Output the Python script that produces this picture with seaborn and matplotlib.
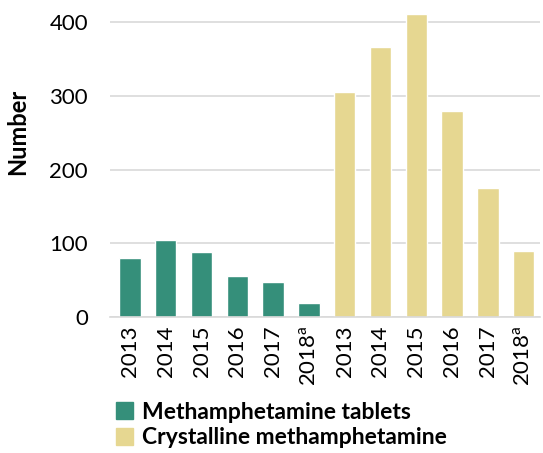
import seaborn as sns
import matplotlib.pyplot as plt
import pandas as pd

# values
years = ['2013', '2014', '2015', '2016', '2017', '2018$^{\\mathrm{a}}$']
tablets = [80, 104, 88, 56, 47, 19]
crystalline = [305, 366, 411, 279, 175, 90]
series = ['Methamphetamine tablets', 'Crystalline methamphetamine']
colors = ['#358F7A', '#E6D791']

df = pd.DataFrame({
    'slot': [f't{i}' for i in range(6)] + [f'c{i}' for i in range(6)],
    'value': tablets + crystalline,
    'kind': [series[0]] * 6 + [series[1]] * 6,
})

sns.set_theme(style='white')
plt.rcParams['font.family'] = ['Lato', 'DejaVu Sans']
plt.rcParams['mathtext.fontset'] = 'custom'
plt.rcParams['mathtext.rm'] = 'Lato'
plt.rcParams['text.color'] = 'black'
plt.rcParams['xtick.color'] = 'black'
plt.rcParams['ytick.color'] = 'black'
plt.rcParams['axes.labelcolor'] = 'black'

fig = plt.figure(figsize=(5.43, 4.53), dpi=100)
ax = fig.add_axes([0.203, 0.30, 0.791, 0.70])

sns.barplot(data=df, x='slot', y='value', hue='kind', palette=colors,
            dodge=False, width=0.6, ax=ax, legend=False, saturation=1)

ax.set_ylim(0, 430)
ax.set_yticks([0, 100, 200, 300, 400])
ax.yaxis.grid(True, color='#d9d9d9', linewidth=1.2)
ax.set_axisbelow(True)
for s in ['top', 'right', 'left']:
    ax.spines[s].set_visible(False)
ax.spines['bottom'].set_color('#d9d9d9')
ax.spines['bottom'].set_linewidth(1.2)

ax.set_xticks(range(12))
ax.set_xticklabels(years + years, rotation=90, fontsize=16)
ax.tick_params(axis='y', labelsize=16, length=0, pad=16)
ax.tick_params(axis='x', length=0, pad=6)
ax.set_xlabel('')
ax.set_ylabel('Number', fontsize=17, fontweight='bold')
ax.yaxis.set_label_coords(-0.188, 0.584)
ax.set_xlim(-0.55, 11.45)

handles = [plt.Rectangle((0, 0), 1, 1, color=c) for c in colors]
leg = fig.legend(handles, series, loc='upper left', bbox_to_anchor=(0.213, 0.113),
                 frameon=False, handlelength=0.75, handleheight=0.75,
                 handletextpad=0.4, labelspacing=0.2,
                 prop={'weight': 'bold', 'size': 16.5}, borderaxespad=0, borderpad=0)

fig.savefig('out.png', dpi=100)
